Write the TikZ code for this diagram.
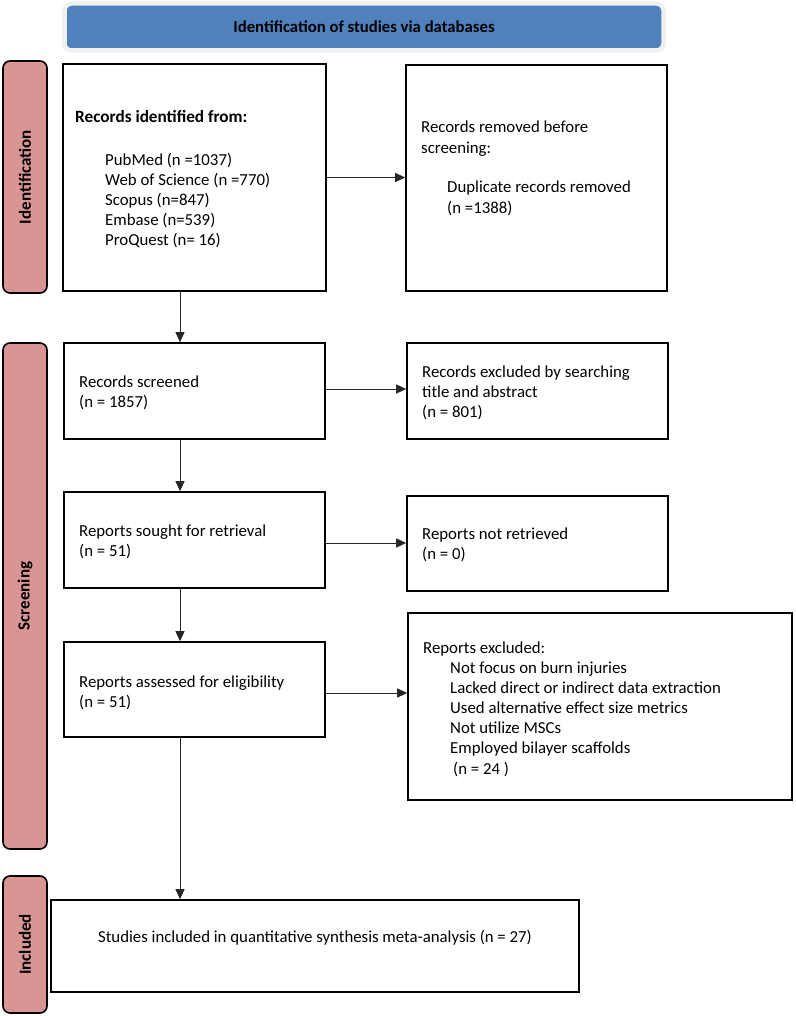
\documentclass[tikz,border=0pt]{standalone}
\usepackage{fontspec}
\setmainfont{Carlito}
\usetikzlibrary{arrows.meta,calc}
\definecolor{hdrblue}{HTML}{4F81BD}
\definecolor{hdrring}{HTML}{F0F0F0}
\definecolor{phase}{HTML}{D99594}
\begin{document}
\begin{tikzpicture}[x=1pt,y=-1pt,
  box/.style={draw=black,line width=1.6pt,fill=white,inner sep=0pt},
  phasebar/.style={draw=black,line width=1.6pt,fill=phase,rounded corners=7pt,inner sep=0pt,minimum width=44pt},
  phaselabel/.style={font=\fontsize{17}{20}\selectfont\bfseries,rotate=90,inner sep=0pt},
  txt/.style={font=\fontsize{16.8}{20.2}\selectfont,align=left,inner sep=0pt,anchor=base west},
  arr/.style={line width=0.9pt,draw=black!85,-{Triangle[length=10pt,width=9pt]}}]
\useasboundingbox (0,0) rectangle (795,1016);
% header
\node (hdr) [draw=hdrring,line width=4.5pt,fill=hdrblue,rounded corners=7pt,
  minimum width=599pt,minimum height=47pt,inner sep=0pt,
  font=\fontsize{16.7}{18}\selectfont\bfseries] at (364,27) {Identification of studies via databases};
% phase bars
\node (pid) [phasebar,minimum height=232pt] at (25,177) {};
\node [phaselabel] at (pid.center) {Identification};
\node (psc) [phasebar,minimum height=506pt] at (25,596) {};
\node [phaselabel] at (psc.center) {Screening};
\node (pin) [phasebar,minimum height=137pt] at (25,944.5) {};
\node [phaselabel] at (pin.center) {Included};
% boxes
\node (idf) [box,minimum width=263pt,minimum height=227pt] at (194.5,177.5) {};
\node (rem) [box,minimum width=261pt,minimum height=226pt] at (536.5,178) {};
\node (scr) [box,minimum width=261pt,minimum height=96pt] at (194.5,391) {};
\node (exc) [box,minimum width=261pt,minimum height=96pt] at (537.5,391) {};
\node (sou) [box,minimum width=261pt,minimum height=96pt] at (194.5,540) {};
\node (nre) [box,minimum width=261pt,minimum height=95pt] at (537.5,543.5) {};
\node (ass) [box,minimum width=261pt,minimum height=95pt] at (194.5,689.5) {};
\node (rex) [box,minimum width=384pt,minimum height=187pt] at (600,706.5) {};
\node (inc) [box,minimum width=528pt,minimum height=92pt] at (315,946) {};
% texts (anchor = baseline of last line)
\node [txt,font=\fontsize{17.2}{20.2}\selectfont\bfseries] at (75,123) {Records identified from:};
\node [txt] at (105,245.8) {PubMed (n =1037)\\Web of Science (n =770)\\Scopus (n=847)\\Embase (n=539)\\ProQuest (n= 16)};
\node [txt] at (421,153.2) {Records removed before\\screening:};
\node [txt] at (447,213.2) {Duplicate records removed\\(n =1388)};
\node [txt] at (79,407.2) {Records screened\\(n = 1857)};
\node [txt] at (422,417.4) {Records excluded by searching\\title and abstract\\(n = 801)};
\node [txt] at (79,556.2) {Reports sought for retrieval\\(n = 51)};
\node [txt] at (422,559.2) {Reports not retrieved\\(n = 0)};
\node [txt] at (79,707.2) {Reports assessed for eligibility\\(n = 51)};
\node [txt] at (423,653) {Reports excluded:};
\node [txt] at (450,774) {Not focus on burn injuries\\Lacked direct or indirect data extraction\\Used alternative effect size metrics\\Not utilize MSCs\\Employed bilayer scaffolds\\\hspace{3pt}(n = 24 )};
\node [txt,anchor=base] at (315,942) {Studies included in quantitative synthesis meta-analysis (n = 27)};
% connectors
\coordinate (ax) at (180,0);
\draw[arr] (idf.east) -- (idf.east -| rem.west);
\draw[arr] ($(scr.east)+(0,-2)$) -- ($(scr.east -| exc.west)+(0,-2)$);
\draw[arr] ($(sou.east)+(0,3)$) -- ($(sou.east -| nre.west)+(0,3)$);
\draw[arr] ($(ass.east)+(0,3.5)$) -- ($(ass.east -| rex.west)+(0,3.5)$);
\draw[arr] (idf.south -| ax) -- (scr.north -| ax);
\draw[arr] (scr.south -| ax) -- (sou.north -| ax);
\draw[arr] (sou.south -| ax) -- (ass.north -| ax);
\draw[arr] (ass.south -| ax) -- (inc.north -| ax);
\end{tikzpicture}
\end{document}
